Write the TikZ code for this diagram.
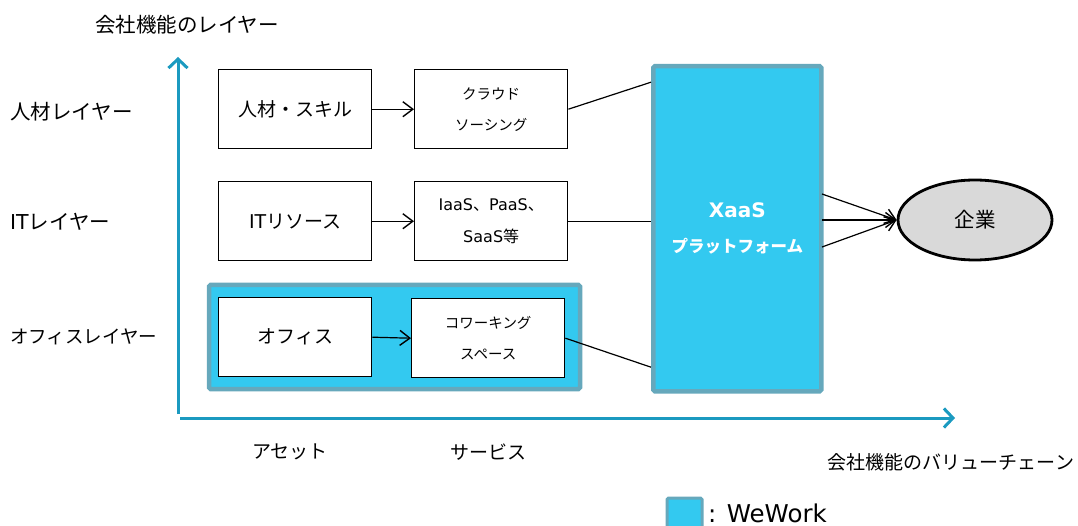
\documentclass[tikz,border=0pt]{standalone}
\usepackage{fontspec}
\setmainfont{Noto Sans CJK JP}
\newfontfamily\latinfont{DejaVu Sans}
\usetikzlibrary{arrows.meta,shapes.geometric}
\definecolor{axisblue}{HTML}{1B9AC0}
\definecolor{wwfill}{HTML}{33C9F0}
\definecolor{wwborder}{HTML}{66A8BC}
\definecolor{entgray}{HTML}{D9D9D9}
\tikzset{
  fs/.style 2 args={font=\fontsize{#1}{#2}\selectfont},
  box/.style={draw=black, line width=1.4pt, fill=white, minimum width=153pt, minimum height=79pt, anchor=north west, inner sep=0pt, align=center},
  grp/.style={draw=wwborder, line width=4.5pt, fill=wwfill, rounded corners=1.5pt},
  conn/.style={draw=black, line width=1.2pt},
  arr/.style={conn, -{Straight Barb[length=10pt,width=15pt,line width=1.4pt]}},
  axis/.style={draw=axisblue, line width=3pt, -{Straight Barb[length=9pt,width=19pt,line width=3pt]}},
  lbl/.style={inner sep=0pt, fs={19}{23}}
}
\begin{document}
\begin{tikzpicture}[x=1pt,y=-1pt]
\useasboundingbox (0,0) rectangle (1078,526);
% axes
\coordinate (ax0) at (178,414);
\coordinate (ayt) at (178,57);
\coordinate (hx0) at (180,418);
\coordinate (hxt) at (955,418);
\draw[axis] (ax0) -- (ayt);
\draw[axis] (hx0) -- (hxt);
% axis labels
\node[lbl, fs={20.5}{24}, anchor=center] (ylab) at (187,25) {会社機能のレイヤー};
\node[lbl, anchor=center] (xlab) at (951,462) {会社機能のバリューチェーン};
\node[lbl, fs={20.5}{24}, anchor=west] (r1) at (10,112) {人材レイヤー};
\node[lbl, fs={20.5}{24}, anchor=west] (r2) at (10,222) {{\latinfont IT}レイヤー};
\node[lbl, fs={18.5}{23}, anchor=west] (r3) at (10,337) {オフィスレイヤー};
\node[lbl, anchor=center] (c1) at (290,452) {アセット};
\node[lbl, anchor=center] (c2) at (488,452) {サービス};
% WeWork group
\draw[grp] (209,285) rectangle (580,389);
% XaaS platform
\node[grp, minimum width=168pt, minimum height=325pt, anchor=north west, inner sep=0pt, text=white, align=center, font=\fontsize{16.5}{35}\selectfont\bfseries] (xaas) at (651,64) {{\latinfont\fontsize{20}{35}\selectfont\bfseries XaaS}\\プラットフォーム};
% boxes
\node[box, fs={19}{23}] (hr) at (218,69) {人材・スキル};
\node[box, fs={14.5}{31}] (cs) at (414,69) {クラウド\\ソーシング};
\node[box, fs={19}{23}] (it) at (218,181) {{\latinfont IT}リソース};
\node[box, fs={16}{32}] (iaas) at (414,181) {{\latinfont IaaS}、{\latinfont PaaS}、\\{\latinfont SaaS}等};
\node[box, fs={19}{23}] (of) at (218,297) {オフィス};
\node[box, fs={14.5}{31}] (cw) at (411,298) {コワーキング\\スペース};
% enterprise
\node[ellipse, draw=black, line width=2.8pt, fill=entgray, minimum width=154pt, minimum height=80pt, fs={20.5}{24}] (ent) at (975,220) {企業};
% connectors
\draw[arr] (hr.east) -- (cs.west);
\draw[arr] (it.east) -- (iaas.west);
\draw[arr] (of.east) -- (cw.west);
\draw[conn] (cs.east) -- ([yshift=27pt]xaas.west|-cs.east);
\draw[conn] (iaas.east) -- (xaas.west|-iaas.east);
\draw[conn] (cw.east) -- ([yshift=-29pt]xaas.west|-cw.east);
\coordinate (x1) at (822,194);
\coordinate (x2) at (822,220);
\coordinate (x3) at (822,247);
\draw[arr] (x1) -- (ent.west);
\draw[arr] (x2) -- (ent.west);
\draw[arr] (x3) -- (ent.west);
% legend
\draw[grp, line width=3pt] (667,498) rectangle (702,528);
\node[anchor=west, inner sep=0pt, font=\latinfont\fontsize{24.5}{28}\selectfont] (leg) at (708,513) {: WeWork};
\end{tikzpicture}
\end{document}
